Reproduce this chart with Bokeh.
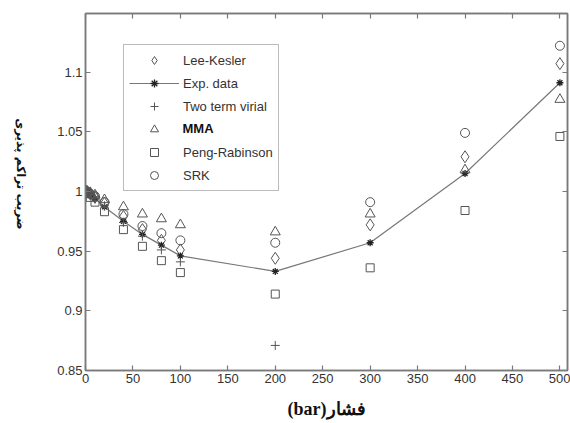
from math import pi

from bokeh.core.properties import value
from bokeh.embed import file_html
from bokeh.layouts import row
from bokeh.models import (FixedTicker, Label, Legend, LegendItem, LinearAxis,
                          Range1d)
from bokeh.plotting import figure
from bokeh.resources import INLINE

# Pressure (bar) and compressibility factor for each method
pressure = [1, 2, 5, 10, 20, 40, 60, 80, 100, 200, 300, 400, 500]
exp_data = [0.9995, 0.999, 0.997, 0.994, 0.987, 0.975, 0.964, 0.955, 0.946,
            0.933, 0.957, 1.015, 1.091]
lee_kesler = [1.0, 0.9995, 0.998, 0.995, 0.990, 0.979, 0.968, 0.959, 0.951,
              0.944, 0.972, 1.029, 1.107]
virial_pressure = [1, 2, 5, 10, 20, 40, 60, 80, 100, 200]
two_term_virial = [0.9994, 0.9988, 0.997, 0.994, 0.988, 0.974, 0.9625, 0.951,
                   0.941, 0.871]
mma = [1.0, 1.0, 0.999, 0.997, 0.993, 0.987, 0.981, 0.977, 0.972, 0.966,
       0.981, 1.018, 1.077]
peng_robinson = [0.999, 0.998, 0.995, 0.991, 0.983, 0.968, 0.954, 0.942,
                 0.932, 0.914, 0.936, 0.984, 1.046]
srk = [1.0, 0.9995, 0.998, 0.996, 0.991, 0.981, 0.971, 0.965, 0.959, 0.957,
       0.991, 1.049, 1.122]

x_ticks = [0, 50, 100, 150, 200, 250, 300, 350, 400, 450, 500]
y_ticks = [0.85, 0.9, 0.95, 1.0, 1.05, 1.1]
y_tick_labels = ["0.85", "0.9", "0.95", "1", "1.05", "1.1"]

y_title = "ضریب تراکم پذیری"
x_title = "(bar)فشار"

AXIS_GREY = "#7a7a7a"
TEXT = "#333333"
MARK = "#555555"
SANS = "Liberation Sans"
HEIGHT = 423

# Narrow strip on the left holding the vertical title (reads top to bottom,
# anchored at its top end)
strip = figure(width=40, height=HEIGHT, output_backend="svg",
               toolbar_location=None, x_range=Range1d(0, 40),
               y_range=Range1d(0, HEIGHT), min_border=0,
               x_axis_location=None, y_axis_location=None)
strip.grid.visible = False
strip.outline_line_color = None
strip.border_fill_color = "white"
strip.text(x=[20], y=[HEIGHT - 124], text=[y_title], angle=-pi / 2,
           text_align="left", text_baseline="middle",
           text_font=value("DejaVu Sans"), text_font_style="bold",
           text_font_size="12px", text_color="#111111")

p = figure(width=530, height=HEIGHT, output_backend="svg",
           toolbar_location=None,
           x_range=Range1d(0, 508), y_range=Range1d(0.85, 1.149),
           min_border_left=45, min_border_right=3, min_border_top=13,
           min_border_bottom=53, x_axis_location=None, y_axis_location=None)
p.grid.visible = False
p.outline_line_color = AXIS_GREY
p.outline_line_width = 1.5
p.background_fill_color = "white"
p.border_fill_color = "white"


def style_axis(ax, ticks, show_labels):
    ax.ticker = FixedTicker(ticks=ticks)
    ax.axis_line_color = AXIS_GREY
    ax.axis_line_width = 1.5
    ax.major_tick_line_color = AXIS_GREY
    ax.major_tick_line_width = 1.2
    ax.major_tick_in = 5
    ax.major_tick_out = 0
    ax.minor_tick_line_color = None
    ax.major_label_text_font = SANS
    ax.major_label_text_color = TEXT
    ax.major_label_text_font_size = "13px" if show_labels else "0px"
    ax.major_label_standoff = 3 if show_labels else 0


xb = LinearAxis()
style_axis(xb, x_ticks, True)
xb.axis_label = x_title
xb.axis_label_text_font = "Liberation Serif"
xb.axis_label_text_font_style = "bold"
xb.axis_label_text_font_size = "18px"
xb.axis_label_text_color = "#111111"
xb.axis_label_standoff = 13
p.add_layout(xb, "below")

yl = LinearAxis()
style_axis(yl, y_ticks, True)
yl.major_label_overrides = {t: s for t, s in zip(y_ticks, y_tick_labels)}
p.add_layout(yl, "left")

xt = LinearAxis()
style_axis(xt, x_ticks, False)
p.add_layout(xt, "above")

yr = LinearAxis()
style_axis(yr, y_ticks, False)
p.add_layout(yr, "right")

r_lk = p.scatter(pressure, lee_kesler, marker="diamond", size=12,
                 fill_color=None, line_color=MARK, line_width=1)
r_exp_line = p.line(pressure, exp_data, line_color="#777777", line_width=1.2)
r_exp = p.scatter(pressure, exp_data, marker="asterisk", size=7,
                  line_color="#222222", line_width=1.3)
r_vir = p.scatter(virial_pressure, two_term_virial, marker="cross", size=9,
                  line_color=MARK, line_width=1)
r_mma = p.scatter(pressure, mma, marker="triangle", size=10,
                  fill_color=None, line_color=MARK, line_width=1)
r_pr = p.scatter(pressure, peng_robinson, marker="square", size=8,
                 fill_color=None, line_color=MARK, line_width=1)
r_srk = p.scatter(pressure, srk, marker="circle", size=9,
                  fill_color=None, line_color=MARK, line_width=1)

# The MMA entry is set in bold; the legend box is left see-through so
# this label shows inside it
p.add_layout(Label(x=97, y=242, x_units="screen", y_units="screen",
                   text="MMA", text_font=SANS, text_font_style="bold",
                   text_font_size="13px", text_color="#111111",
                   text_baseline="middle", text_align="left"))

legend = Legend(items=[
    LegendItem(label="Lee-Kesler", renderers=[r_lk]),
    LegendItem(label="Exp. data", renderers=[r_exp_line, r_exp]),
    LegendItem(label="Two term virial", renderers=[r_vir]),
    LegendItem(label=" ", renderers=[r_mma]),
    LegendItem(label="Peng-Rabinson", renderers=[r_pr]),
    LegendItem(label="SRK", renderers=[r_srk]),
], location=(38, 179))
legend.border_line_color = AXIS_GREY
legend.border_line_width = 1.2
legend.background_fill_alpha = 0.0
legend.label_text_font = SANS
legend.label_text_font_size = "13px"
legend.label_text_color = TEXT
legend.glyph_width = 50
legend.glyph_height = 20
legend.label_height = 20
legend.label_standoff = 4
legend.spacing = 3
legend.padding = 5
legend.margin = 0
p.add_layout(legend, "center")

layout = row(strip, p)
open("out.html", "w").write(file_html(layout, INLINE))
